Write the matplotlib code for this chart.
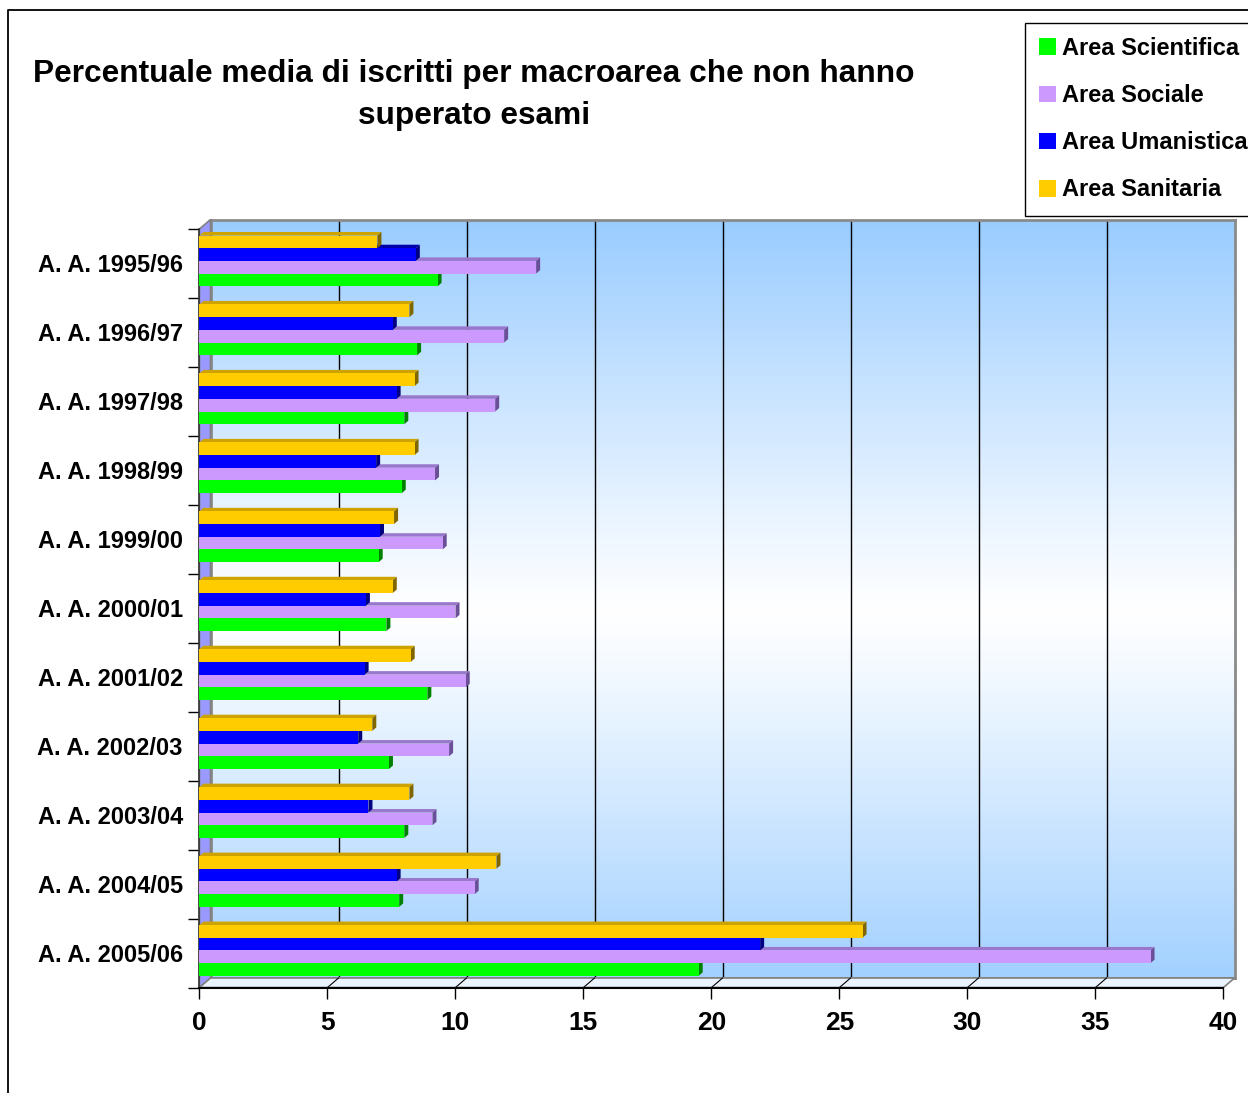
import numpy as np
import matplotlib
matplotlib.use('Agg')
import matplotlib.pyplot as plt
from matplotlib.patches import Polygon, Patch
from matplotlib.lines import Line2D

plt.rcParams['font.family'] = ['Liberation Sans', 'DejaVu Sans']

# data
categories = ['A. A. 1995/96', 'A. A. 1996/97', 'A. A. 1997/98', 'A. A. 1998/99',
              'A. A. 1999/00', 'A. A. 2000/01', 'A. A. 2001/02', 'A. A. 2002/03',
              'A. A. 2003/04', 'A. A. 2004/05', 'A. A. 2005/06']
scientifica = [9.3, 8.5, 8.0, 7.9, 7.0, 7.3, 8.9, 7.4, 8.0, 7.8, 19.5]
sociale = [13.15, 11.9, 11.55, 9.2, 9.5, 10.0, 10.4, 9.75, 9.1, 10.75, 37.15]
umanistica = [8.45, 7.55, 7.7, 6.9, 7.05, 6.5, 6.45, 6.2, 6.6, 7.7, 21.9]
sanitaria = [6.95, 8.2, 8.4, 8.4, 7.6, 7.55, 8.25, 6.75, 8.2, 11.6, 25.9]
series_names = ['Area Scientifica', 'Area Sociale', 'Area Umanistica', 'Area Sanitaria']
x_ticks = [0, 5, 10, 15, 20, 25, 30, 35, 40]

# (front, top, side) colours for each series
colors = {
    'Area Scientifica': ('#00FF00', '#00B000', '#008000'),
    'Area Sociale': ('#CC99FF', '#9977CC', '#6B4F99'),
    'Area Umanistica': ('#0000FF', '#0000AA', '#000080'),
    'Area Sanitaria': ('#FFCC00', '#CCA300', '#806600'),
}

W, H = 1248, 1093
fig = plt.figure(figsize=(W / 100, H / 100), dpi=100)


def fx(x):
    return x / W


def fy(y):
    return 1 - y / H


# plot box in pixels (front plane) and depth of the 3d walls
X0, X1, YT, YB = 199.5, 1223.5, 229, 987.5
DX, DY = 11, -9.5

# back wall with gradient and gridlines
axb = fig.add_axes([fx(X0 + DX), fy(YB + DY), (X1 - X0) / W, (YB - YT) / H], zorder=0)
t = np.abs(np.linspace(0, 1, 400) - 0.52) / 0.52
t = np.clip(t, 0, 1) ** 1.1
blue = np.array([0.60, 0.80, 1.0])
white = np.array([1.0, 1.0, 1.0])
grad = white[None, :] * (1 - t[:, None]) + blue[None, :] * t[:, None]
axb.imshow(grad[:, None, :], extent=[0, 40, 0, 1], aspect='auto', origin='upper')
axb.set_xlim(0, 40)
axb.set_ylim(0, 1)
for v in x_ticks[1:-1]:
    axb.axvline(v, color='black', lw=1)
axb.set_xticks([])
axb.set_yticks([])
for s in axb.spines.values():
    s.set_color('#8A8A8A')
    s.set_linewidth(2)

# left wall and floor
wall = [(X0, YT), (X0 + DX, YT + DY), (X0 + DX, YB + DY), (X0, YB)]
fig.add_artist(Polygon([(fx(a), fy(b)) for a, b in wall], closed=True,
                       facecolor='#9999FF', edgecolor='#808080', lw=1.2,
                       transform=fig.transFigure, zorder=0.5))
floor = [(X0, YB), (X1, YB), (X1 + DX, YB + DY), (X0 + DX, YB + DY)]
fig.add_artist(Polygon([(fx(a), fy(b)) for a, b in floor], closed=True,
                       facecolor='#EAF3FF', edgecolor='#808080', lw=1.2,
                       transform=fig.transFigure, zorder=0.5))
scale = (X1 - X0) / 40
for v in x_ticks[1:-1]:
    xp = X0 + v * scale
    fig.add_artist(Line2D([fx(xp), fx(xp + DX)], [fy(YB), fy(YB + DY)],
                          color='black', lw=0.8, transform=fig.transFigure, zorder=0.6))

# front axes with bars
ax = fig.add_axes([fx(X0), fy(YB), (X1 - X0) / W, (YB - YT) / H], zorder=2)
ax.set_facecolor('none')
ax.set_xlim(0, 40)
ax.set_ylim(len(categories) - 0.5, -0.5)

cat_px = (YB - YT) / len(categories)
h = 12.7 / cat_px
group_top = 6.5 / cat_px
ddx = 4 / scale
ddy = 3.5 / cat_px

# top to bottom inside a group: Sanitaria, Umanistica, Sociale, Scientifica
stack = [('Area Sanitaria', sanitaria), ('Area Umanistica', umanistica),
         ('Area Sociale', sociale), ('Area Scientifica', scientifica)]
for i in range(len(categories)):
    for k in range(3, -1, -1):
        name, vals = stack[k]
        v = vals[i]
        front, top, side = colors[name]
        y_top = i - 0.5 + group_top + k * h
        y_bot = y_top + h
        z = 3 + (3 - k) * 0.1
        ax.barh(y_top + h / 2, v, height=h, color=front, zorder=z + 0.02)
        ax.add_patch(Polygon([(0, y_top), (v, y_top), (v + ddx, y_top - ddy), (ddx, y_top - ddy)],
                             closed=True, facecolor=top, edgecolor='none', zorder=z))
        ax.add_patch(Polygon([(v, y_top), (v, y_bot), (v + ddx, y_bot - ddy), (v + ddx, y_top - ddy)],
                             closed=True, facecolor=side, edgecolor='none', zorder=z + 0.01))

ax.spines['top'].set_visible(False)
ax.spines['right'].set_visible(False)
ax.spines['left'].set_color('#333333')
ax.spines['bottom'].set_color('black')
ax.spines['left'].set_linewidth(1.2)
ax.spines['bottom'].set_linewidth(1.5)

ax.set_xticks(x_ticks)
ax.set_xticklabels([str(v) for v in x_ticks], fontsize=19, fontweight='bold')
ax.tick_params(axis='x', length=8, width=1, pad=9)

ax.set_yticks(range(len(categories)))
ax.set_yticklabels(categories, fontsize=17, fontweight='bold')
ax.set_yticks(np.arange(len(categories) + 1) - 0.5, minor=True)
ax.tick_params(axis='y', which='major', length=0, pad=12)
ax.tick_params(axis='y', which='minor', length=8, width=1)

# title
fig.text(fx(474), fy(74), 'Percentuale media di iscritti per macroarea che non hanno',
         ha='center', va='center', fontsize=22.8, fontweight='bold')
fig.text(fx(474), fy(116), 'superato esami',
         ha='center', va='center', fontsize=22.8, fontweight='bold')

# legend
handles = [Patch(facecolor=colors[n][0], edgecolor='none') for n in series_names]
leg = fig.legend(handles, series_names, loc='upper left',
                 bbox_to_anchor=(fx(1025), fy(23)), frameon=True, fancybox=False,
                 edgecolor='black', framealpha=1, prop={'size': 17, 'weight': 'bold'},
                 handlelength=0.72, handleheight=0.72, handletextpad=0.25,
                 labelspacing=1.02, borderpad=0.6, borderaxespad=0)
leg.get_frame().set_linewidth(1)

# outer chart border
fig.add_artist(Line2D([fx(8), fx(8), fx(W)], [fy(H), fy(10), fy(10)],
                      color='black', lw=1.3, transform=fig.transFigure))

fig.savefig('out.png', dpi=100)
